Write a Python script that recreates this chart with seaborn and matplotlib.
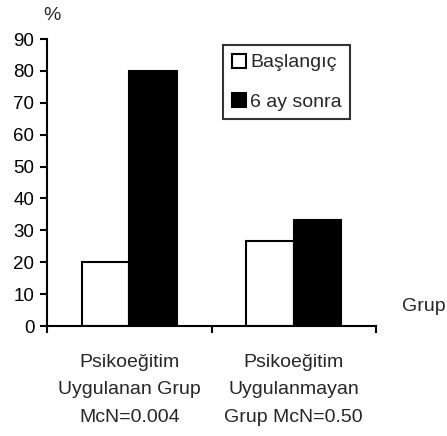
import matplotlib
matplotlib.use("Agg")
import matplotlib.pyplot as plt
import seaborn as sns
import pandas as pd
from matplotlib.patches import Patch

categories = ["Psikoeğitim\nUygulanan Grup\nMcN=0.004", "Psikoeğitim\nUygulanmayan\nGrup McN=0.50"]
series = ["Başlangıç", "6 ay sonra"]
baslangic = [20.0, 26.7]
alti_ay = [80.0, 33.3]
yticks = [0, 10, 20, 30, 40, 50, 60, 70, 80, 90]

df = pd.DataFrame({
    "grup": categories * 2,
    "seri": [series[0]] * 2 + [series[1]] * 2,
    "deger": baslangic + alti_ay,
})

sns.set_style("white")
plt.rcParams["font.family"] = ["Liberation Sans", "DejaVu Sans"]

FS = 14
fig = plt.figure(figsize=(4.47, 4.36), dpi=100)
ax = fig.add_axes([47/447, (436-326)/436, (376-47)/447, (326-39)/436])

sns.barplot(data=df, x="grup", y="deger", hue="seri", order=categories,
            hue_order=series, palette=["white", "black"], width=0.58,
            edgecolor="black", linewidth=1.5, legend=False, ax=ax)

ax.set_xlim(-0.5, 1.5)
ax.set_ylim(0, 90)
ax.set_yticks(yticks)
ax.set_xticks([-0.5, 0.5, 1.5])
ax.set_xticklabels([])
ax.set_xticks([0, 1], minor=True)
ax.set_xticklabels(categories, minor=True, fontsize=FS, linespacing=1.82)
ax.tick_params(axis="x", which="minor", length=0, pad=20)
ax.tick_params(axis="x", which="major", direction="out", length=5, width=1.5, color="black", bottom=True)
ax.tick_params(axis="y", direction="out", length=5, width=1.5, color="black", left=True, labelsize=13.5, pad=4)
for lab in ax.get_yticklabels():
    lab.set_color("black")
ax.set_xlabel("")
ax.set_ylabel("")
for s in ["top", "right"]:
    ax.spines[s].set_visible(False)
for s in ["left", "bottom"]:
    ax.spines[s].set_color("black")
    ax.spines[s].set_linewidth(1.5)

fig.text(52/447, 1 - 16/436, "%", fontsize=FS, ha="center", va="center")
fig.text(402/447, 1 - 306/436, "Grup", fontsize=FS, ha="left", va="center")

handles = [Patch(facecolor="white", edgecolor="black", linewidth=1.5),
           Patch(facecolor="black", edgecolor="black", linewidth=1.5)]
leg = fig.legend(handles, series, loc="upper left",
                 bbox_to_anchor=(223/447, 1 - 45/436), fontsize=FS,
                 frameon=True, fancybox=False, handlelength=0.72, handleheight=0.72,
                 handletextpad=0.22, borderpad=0.45, labelspacing=1.1, borderaxespad=0)
leg.get_frame().set_edgecolor("black")
leg.get_frame().set_linewidth(1.5)

fig.savefig("out.png", dpi=100)
